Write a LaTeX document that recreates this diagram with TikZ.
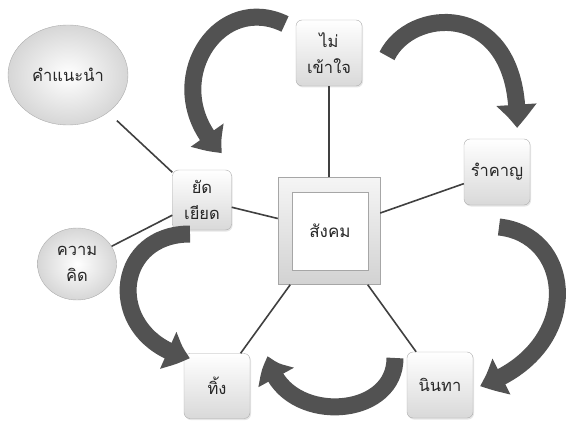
\documentclass[tikz,border=0pt]{standalone}
\usepackage{fontspec}
\newfontfamily\thaifont[Script=Thai]{Loma}
\usetikzlibrary{arrows.meta,bending,shapes.geometric,shadows}

\begin{document}
\begin{tikzpicture}[x=1pt, y=-1pt]
\tikzstyle{boxr}=[rectangle, rounded corners=6pt, draw=gray!65, top color=white, bottom color=gray!30, minimum width=66pt, minimum height=66pt, align=center, inner sep=2pt, text=black!85, font=\thaifont\fontsize{16.5}{26}\selectfont, drop shadow={opacity=0.2, shadow xshift=1pt, shadow yshift=-1.5pt}]
\tikzstyle{vertexe}=[ellipse, draw=gray!65, inner color=white, outer color=gray!32, align=center, inner sep=0pt, text=black!85, font=\thaifont\fontsize{16.5}{26}\selectfont]
\tikzstyle{linkstyle}=[draw=black!75, line width=1.6pt]
\tikzstyle{bigarrow}=[draw=black!68, line width=17pt, -{Triangle[width=38pt,length=24pt,bend]}]

\useasboundingbox (0,0) rectangle (567,425);

% center
\node[rectangle, draw=gray!70, top color=gray!8, bottom color=gray!35, minimum width=102pt, minimum height=107pt] (sangkhom) at (329,231) {};
\node[rectangle, draw=gray!70, fill=white, minimum width=76pt, minimum height=78pt, text=black!85, font=\thaifont\fontsize{17}{20}\selectfont] (sangkhomin) at (330,231) {สังคม};

% boxes round it
\node[boxr] (maikhaochai) at (329,53) {ไม่\\เข้าใจ};
\node[boxr] (ramkhan) at (497,172) {รำคาญ};
\node[boxr, minimum width=59pt, minimum height=60pt] (yatyiat) at (202,200) {ยัด\\เยียด};
\node[boxr, minimum height=65pt] (thing) at (217,386) {ทิ้ง};
\node[boxr] (ninatha) at (440,385) {นินทา};

\node[vertexe, minimum width=120pt, minimum height=100pt] (khamnaenam) at (68,75) {คำแนะนำ};
\node[vertexe, minimum width=79pt, minimum height=72pt] (khwamkhit) at (77,264) {ความ\\คิด};

% links
\draw[linkstyle] (sangkhom) -- (maikhaochai);
\draw[linkstyle] (sangkhom) -- (ramkhan);
\draw[linkstyle] (sangkhom) -- (yatyiat);
\draw[linkstyle] (sangkhom) -- (thing);
\draw[linkstyle] (sangkhom) -- (ninatha);
\draw[linkstyle, shorten <=12pt] (khamnaenam) -- (yatyiat);
\draw[linkstyle] (khwamkhit) -- (yatyiat);

% big arrows
\coordinate (a1s) at (285,24);
\coordinate (a1e) at (222,153);
\coordinate (a2s) at (387,56);
\coordinate (a2e) at (517,128);
\coordinate (a3s) at (499,227);
\coordinate (a3e) at (480,386);
\coordinate (a4s) at (395,358);
\coordinate (a4e) at (268,356);
\coordinate (a5s) at (190,234);
\coordinate (a5e) at (190,358);
\draw[bigarrow] (a1s) .. controls (215,-10) and (155,90) .. (a1e);
\draw[bigarrow] (a2s) .. controls (412,5) and (522,0) .. (a2e);
\draw[bigarrow] (a3s) .. controls (575,235) and (585,350) .. (a3e);
\draw[bigarrow] (a4s) .. controls (395,422) and (278,425) .. (a4e);
\draw[bigarrow] (a5s) .. controls (110,234) and (105,340) .. (a5e);
\end{tikzpicture}
\end{document}
